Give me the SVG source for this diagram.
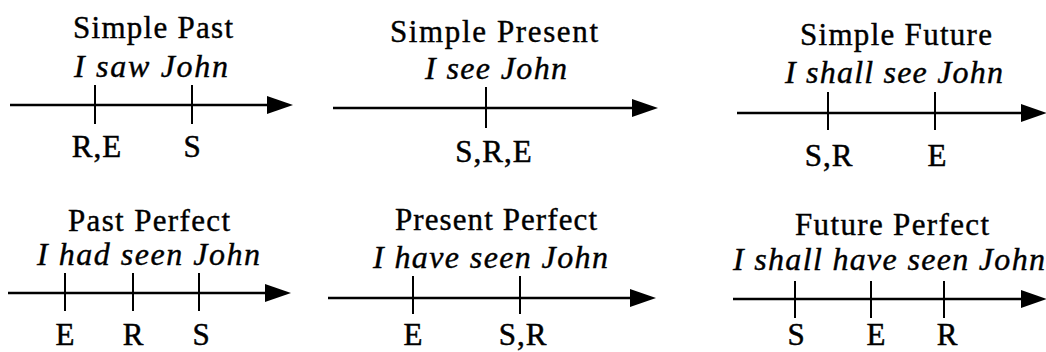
<svg xmlns="http://www.w3.org/2000/svg" width="1046" height="352" viewBox="0 0 1046 352">
<defs>
<marker id="ah" markerUnits="userSpaceOnUse" markerWidth="28" markerHeight="20" refX="0" refY="9" orient="auto" overflow="visible">
<path d="M0,0 L26,9 L0,18 Z" fill="#000"/>
</marker>
<style>
.t{font-family:"Liberation Serif","Times New Roman",serif;font-size:31px;fill:#000;stroke:#000;stroke-width:0.4}
.i{font-family:"Liberation Serif","Times New Roman",serif;font-size:32px;font-style:italic;fill:#000;stroke:#000;stroke-width:0.4}
.l{font-family:"Liberation Serif","Times New Roman",serif;font-size:31px;fill:#000;stroke:#000;stroke-width:0.5;text-anchor:middle}
.ax{stroke:#000;stroke-width:2.4;fill:none}
.tk{stroke:#000;stroke-width:2;fill:none}
</style>
</defs>
<rect width="1046" height="352" fill="#fff"/>
<g id="connectors">
<line class="ax" x1="10" y1="105" x2="267" y2="105" marker-end="url(#ah)"/>
<line class="tk" x1="95" y1="85" x2="95" y2="124"/>
<line class="tk" x1="192" y1="85" x2="192" y2="124"/>
<line class="ax" x1="333" y1="108" x2="632" y2="108" marker-end="url(#ah)"/>
<line class="tk" x1="486" y1="87" x2="486" y2="128"/>
<line class="ax" x1="737" y1="113" x2="1021" y2="113" marker-end="url(#ah)"/>
<line class="tk" x1="828" y1="92" x2="828" y2="130"/>
<line class="tk" x1="935" y1="92" x2="935" y2="130"/>
<line class="ax" x1="8" y1="293" x2="265" y2="293" marker-end="url(#ah)"/>
<line class="tk" x1="65" y1="273" x2="65" y2="311"/>
<line class="tk" x1="133" y1="273" x2="133" y2="311"/>
<line class="tk" x1="199" y1="273" x2="199" y2="311"/>
<line class="ax" x1="328" y1="298" x2="630" y2="298" marker-end="url(#ah)"/>
<line class="tk" x1="413" y1="276" x2="413" y2="314"/>
<line class="tk" x1="520" y1="276" x2="520" y2="314"/>
<line class="ax" x1="733" y1="299" x2="1021" y2="299" marker-end="url(#ah)"/>
<line class="tk" x1="795" y1="281" x2="795" y2="318"/>
<line class="tk" x1="871" y1="281" x2="871" y2="318"/>
<line class="tk" x1="944" y1="281" x2="944" y2="318"/>
</g>
<g id="simple-past">
<text class="t" x="73" y="38" textLength="160" lengthAdjust="spacing">Simple Past</text>
<text class="i" x="74" y="77" textLength="154" lengthAdjust="spacing">I saw John</text>
<text class="l" x="97" y="157" letter-spacing="1">R,E</text>
<text class="l" x="192" y="157">S</text>
</g>
<g id="simple-present">
<text class="t" x="390" y="42" textLength="208" lengthAdjust="spacing">Simple Present</text>
<text class="i" x="425" y="79" textLength="142" lengthAdjust="spacing">I see John</text>
<text class="l" x="494" y="162" letter-spacing="1">S,R,E</text>
</g>
<g id="simple-future">
<text class="t" x="800" y="45" textLength="192" lengthAdjust="spacing">Simple Future</text>
<text class="i" x="785" y="83" textLength="218" lengthAdjust="spacing">I shall see John</text>
<text class="l" x="829" y="166" letter-spacing="1">S,R</text>
<text class="l" x="937" y="166">E</text>
</g>
<g id="past-perfect">
<text class="t" x="68" y="231" textLength="162" lengthAdjust="spacing">Past Perfect</text>
<text class="i" x="37" y="265" textLength="223" lengthAdjust="spacing">I had seen John</text>
<text class="l" x="65" y="345">E</text>
<text class="l" x="133" y="345">R</text>
<text class="l" x="201" y="345">S</text>
</g>
<g id="present-perfect">
<text class="t" x="395" y="230" textLength="202" lengthAdjust="spacing">Present Perfect</text>
<text class="i" x="373" y="268" textLength="235" lengthAdjust="spacing">I have seen John</text>
<text class="l" x="413" y="345">E</text>
<text class="l" x="523" y="345" letter-spacing="1">S,R</text>
</g>
<g id="future-perfect">
<text class="t" x="795" y="235" textLength="194" lengthAdjust="spacing">Future Perfect</text>
<text class="i" x="733" y="270" textLength="312" lengthAdjust="spacing">I shall have seen John</text>
<text class="l" x="796" y="345">S</text>
<text class="l" x="876" y="345">E</text>
<text class="l" x="947" y="345">R</text>
</g>
</svg>
